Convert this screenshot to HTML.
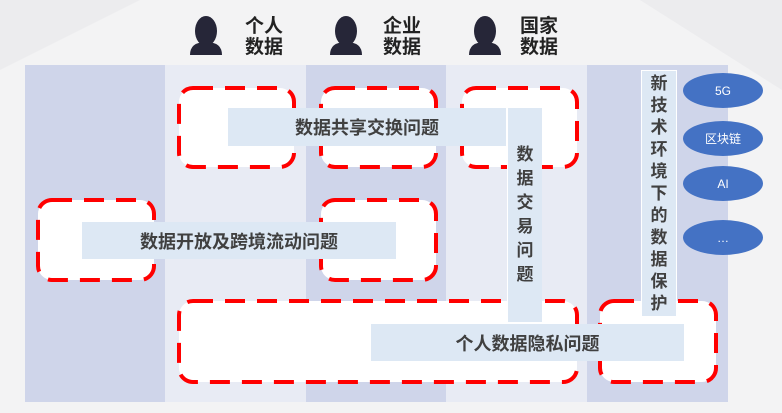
<!DOCTYPE html>
<html><head><meta charset="utf-8"><style>
body{margin:0;width:782px;height:413px;overflow:hidden;background:#f3f3f4;font-family:"Liberation Sans","Noto Sans CJK SC",sans-serif}
.a{position:absolute}
.lbl{position:absolute;background:#dde8f4;color:#404040;font-weight:bold;display:flex;align-items:center;justify-content:center;font-size:18px}
.v{flex-direction:column;font-size:17px;line-height:24px}
.ell{position:absolute;width:80px;height:35px;border-radius:50%;background:#4472c4;color:#fff;font-size:12px;display:flex;align-items:center;justify-content:center;left:683px}
.hd{position:absolute;top:16px;font-size:19px;line-height:21px;color:#222;font-weight:bold}
</style></head><body>
<svg class="a" style="left:0;top:0" width="782" height="413">
<polygon points="0,0 140,0 0,70" fill="#ececee"/>
<polygon points="640,0 782,0 782,90" fill="#ececee"/>
<rect x="25" y="65" width="140" height="337" fill="#cfd5ea"/>
<rect x="165" y="65" width="141" height="337" fill="#e8ebf4"/>
<rect x="306" y="65" width="140" height="337" fill="#cfd5ea"/>
<rect x="446" y="65" width="141" height="337" fill="#e8ebf4"/>
<rect x="587" y="65" width="141" height="337" fill="#cfd5ea"/>
<g fill="#fff" stroke="#f00" stroke-width="4" stroke-dasharray="20 12">
<rect x="179" y="88" width="115" height="79" rx="14"/>
<rect x="321" y="88" width="115" height="79" rx="14"/>
<rect x="462" y="88" width="115" height="79" rx="14"/>
<rect x="38" y="200" width="116" height="80" rx="14"/>
<rect x="321" y="200" width="115" height="80" rx="14"/>
<rect x="179" y="301" width="398" height="81" rx="14"/>
<rect x="600" y="301" width="116" height="81" rx="14"/>
</g>
<g fill="#262638">
<ellipse cx="206" cy="31" rx="11" ry="15"/><path d="M190,55 Q190,42 206,42 Q222,42 222,55Z"/>
<ellipse cx="346" cy="31" rx="11" ry="15"/><path d="M330,55 Q330,42 346,42 Q362,42 362,55Z"/>
<ellipse cx="485" cy="31" rx="11" ry="15"/><path d="M469,55 Q469,42 485,42 Q501,42 501,55Z"/>
</g>
</svg>
<div class="hd" style="left:245px">个人<br>数据</div>
<div class="hd" style="left:383px">企业<br>数据</div>
<div class="hd" style="left:520px">国家<br>数据</div>
<div class="lbl" style="left:228px;top:108px;width:278px;height:38px">数据共享交换问题</div>
<div class="lbl v" style="left:507px;top:108px;width:34px;height:214px;border-left:1px solid #fff">数<br>据<br>交<br>易<br>问<br>题</div>
<div class="lbl" style="left:82px;top:222px;width:314px;height:37px">数据开放及跨境流动问题</div>
<div class="lbl" style="left:371px;top:324px;width:313px;height:37px">个人数据隐私问题</div>
<div class="lbl v" style="left:641px;top:70px;width:34px;height:245px;border:1px solid #fff;line-height:22px">新<br>技<br>术<br>环<br>境<br>下<br>的<br>数<br>据<br>保<br>护</div>
<div class="ell" style="top:73px">5G</div>
<div class="ell" style="top:121px">区块链</div>
<div class="ell" style="top:166px">AI</div>
<div class="ell" style="top:220px">…</div>
</body></html>
